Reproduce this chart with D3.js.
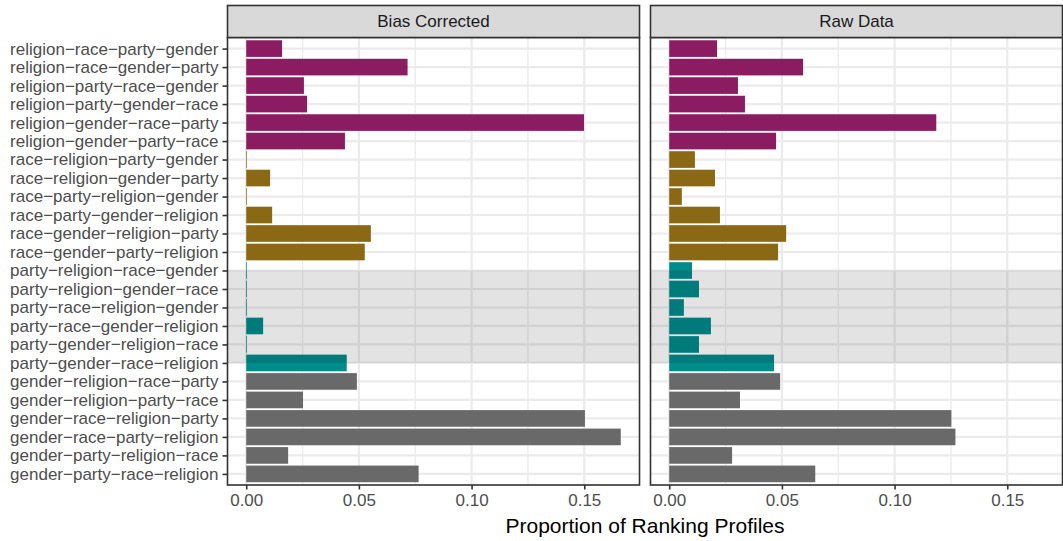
<!DOCTYPE html>
<html>
<head>
<meta charset="utf-8">
<script src="https://cdn.jsdelivr.net/npm/d3@7"></script>
<style>
  html, body { margin: 0; padding: 0; background: #fff; }
  text { font-family: "Liberation Sans", Arial, sans-serif; }
</style>
</head>
<body>
<svg id="chart" width="1063" height="541"></svg>
<script>
// Ranking profiles, top to bottom
const profiles = [
  "religion−race−party−gender",
  "religion−race−gender−party",
  "religion−party−race−gender",
  "religion−party−gender−race",
  "religion−gender−race−party",
  "religion−gender−party−race",
  "race−religion−party−gender",
  "race−religion−gender−party",
  "race−party−religion−gender",
  "race−party−gender−religion",
  "race−gender−religion−party",
  "race−gender−party−religion",
  "party−religion−race−gender",
  "party−religion−gender−race",
  "party−race−religion−gender",
  "party−race−gender−religion",
  "party−gender−religion−race",
  "party−gender−race−religion",
  "gender−religion−race−party",
  "gender−religion−party−race",
  "gender−race−religion−party",
  "gender−race−party−religion",
  "gender−party−religion−race",
  "gender−party−race−religion"
];

const facets = ["Bias Corrected", "Raw Data"];

const biasCorrected = [
  0.0159, 0.0716, 0.0256, 0.0270, 0.1499, 0.0438,
  0.0003, 0.0106, 0.0003, 0.0115, 0.0553, 0.0526,
  0.0003, 0.0003, 0.0003, 0.0075, 0.0003, 0.0446,
  0.0491, 0.0252, 0.1503, 0.1662, 0.0186, 0.0765
];

const rawData = [
  0.0212, 0.0594, 0.0305, 0.0336, 0.1185, 0.0474,
  0.0114, 0.0203, 0.0056, 0.0225, 0.0519, 0.0483,
  0.0101, 0.0132, 0.0065, 0.0185, 0.0132, 0.0465,
  0.0492, 0.0314, 0.1252, 0.1270, 0.0279, 0.0648
];

const xTicks = [0, 0.05, 0.10, 0.15];
const xMinorTicks = [0.025, 0.075, 0.125];

// first-ranked attribute decides the colour
const firstColors = {
  religion: "#8B1C62",
  race: "#8B6914",
  party: "#008B8B",
  gender: "#696969"
};

// highlighted span of party-first profiles (row centres)
const bandFrom = "party−religion−race−gender";
const bandTo = "party−gender−race−religion";

const seriesByFacet = [biasCorrected, rawData];

const svg = d3.select("#chart");

const panelTop = 37.5, panelBottom = 485;
const stripTop = 5.5;
const panelW = 412;
const panelLefts = [227.5, 650.5];

const maxVal = d3.max([...biasCorrected, ...rawData]);
const xDomain = [-0.05 * maxVal, 1.05 * maxVal];

const y = d3.scalePoint()
  .domain(profiles)
  .range([panelTop, panelBottom])
  .padding(0.6);
const step = y.step();
const barH = step * 0.9;

facets.forEach((name, fi) => {
  const x0 = panelLefts[fi];
  const x = d3.scaleLinear().domain(xDomain).range([x0, x0 + panelW]);
  const g = svg.append("g");
  const vals = seriesByFacet[fi];

  // background
  g.append("rect")
    .attr("x", x0).attr("y", panelTop)
    .attr("width", panelW).attr("height", panelBottom - panelTop)
    .attr("fill", "#fff");

  // minor verticals
  g.selectAll(".minor").data(xMinorTicks).join("line")
    .attr("x1", d => x(d)).attr("x2", d => x(d))
    .attr("y1", panelTop).attr("y2", panelBottom)
    .attr("stroke", "#EBEBEB").attr("stroke-width", 1.3);

  // major verticals
  g.selectAll(".majorv").data(xTicks).join("line")
    .attr("x1", d => x(d)).attr("x2", d => x(d))
    .attr("y1", panelTop).attr("y2", panelBottom)
    .attr("stroke", "#EBEBEB").attr("stroke-width", 2.2);

  // major horizontals
  g.selectAll(".majorh").data(profiles).join("line")
    .attr("x1", x0).attr("x2", x0 + panelW)
    .attr("y1", d => y(d)).attr("y2", d => y(d))
    .attr("stroke", "#EBEBEB").attr("stroke-width", 2.2);

  // bars
  g.selectAll(".bar").data(profiles).join("rect")
    .attr("x", x(0))
    .attr("y", d => y(d) - barH / 2)
    .attr("width", (d, i) => x(vals[i]) - x(0))
    .attr("height", barH)
    .attr("fill", d => firstColors[d.split("−")[0]]);

  // shaded band over the party-first rows
  g.append("rect")
    .attr("x", x0).attr("y", y(bandFrom))
    .attr("width", panelW).attr("height", y(bandTo) - y(bandFrom))
    .attr("fill", "#000").attr("fill-opacity", 0.11);

  // panel border
  g.append("rect")
    .attr("x", x0).attr("y", panelTop)
    .attr("width", panelW).attr("height", panelBottom - panelTop)
    .attr("fill", "none").attr("stroke", "#333").attr("stroke-width", 1.6);

  // strip
  g.append("rect")
    .attr("x", x0).attr("y", stripTop)
    .attr("width", panelW).attr("height", panelTop - stripTop)
    .attr("fill", "#D9D9D9").attr("stroke", "#333").attr("stroke-width", 1.6);
  g.append("text")
    .attr("x", x0 + panelW / 2).attr("y", (stripTop + panelTop) / 2)
    .attr("dy", "0.35em")
    .attr("text-anchor", "middle")
    .attr("font-size", 17).attr("fill", "#1A1A1A")
    .text(name);

  // bottom axis
  const ax = svg.append("g")
    .attr("transform", `translate(0,${panelBottom})`)
    .call(d3.axisBottom(x).tickValues(xTicks).tickFormat(d3.format(".2f"))
      .tickSize(4.5).tickPadding(4));
  ax.select(".domain").remove();
  ax.selectAll(".tick line").attr("stroke", "#333").attr("stroke-width", 1.6);
  ax.selectAll(".tick text").attr("font-size", 17).attr("fill", "#4D4D4D")
    .attr("font-family", "Liberation Sans, Arial, sans-serif");
});

// left axis with profile labels
const ay = svg.append("g")
  .attr("transform", `translate(${panelLefts[0]},0)`)
  .call(d3.axisLeft(y).tickSize(5).tickPadding(4));
ay.select(".domain").remove();
ay.selectAll(".tick line").attr("stroke", "#333").attr("stroke-width", 1.6);
ay.selectAll(".tick text").attr("font-size", 17).attr("fill", "#4D4D4D")
  .attr("font-family", "Liberation Sans, Arial, sans-serif");

// axis title
svg.append("text")
  .attr("x", (panelLefts[0] + panelLefts[1] + panelW) / 2)
  .attr("y", 533)
  .attr("text-anchor", "middle")
  .attr("font-size", 21).attr("fill", "#000")
  .text("Proportion of Ranking Profiles");
</script>
</body>
</html>
